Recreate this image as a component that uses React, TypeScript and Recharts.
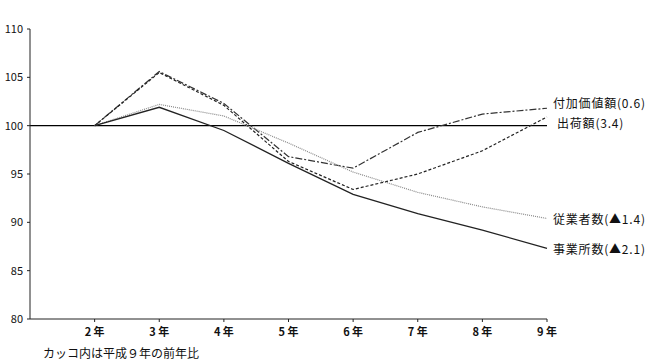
import React from 'react';
import { LineChart, Line, XAxis, YAxis, ReferenceLine } from 'recharts';

const years = [2, 3, 4, 5, 6, 7, 8, 9];
const yearLabels = ['2 年', '3 年', '4 年', '5 年', '6 年', '7 年', '8 年', '9 年'];
const valueAdded = [100, 105.6, 102.3, 96.8, 95.6, 99.3, 101.2, 101.8];
const shipments = [100, 105.5, 102.1, 96.3, 93.4, 95.0, 97.4, 100.9];
const employees = [100, 102.2, 101.0, 98.2, 95.2, 93.1, 91.6, 90.4];
const establishments = [100, 101.9, 99.5, 96.1, 92.9, 90.9, 89.2, 87.3];
const yTicks = [80, 85, 90, 95, 100, 105, 110];

const data = years.map((y, i) => ({
  year: y,
  valueAdded: valueAdded[i],
  shipments: shipments[i],
  employees: employees[i],
  establishments: establishments[i],
}));

const FONT = '"Noto Sans CJK JP", "Noto Sans", sans-serif';

const endLabel = (text: string, dx: number, dy: number) => (props: any) => {
  const { x, y, index } = props;
  if (index !== years.length - 1) return null;
  return (
    <text
      x={x + dx}
      y={y + dy}
      dominantBaseline="central"
      fontSize={12}
      letterSpacing={0.8}
      fontFamily={FONT}
      fill="#111"
    >
      {text}
    </text>
  );
};

export default function App() {
  return (
    <div style={{ position: 'absolute', left: 0, top: 0, width: 650, height: 361, background: '#fff' }}>
      <LineChart width={650} height={361} data={data} margin={{ top: 29, right: 103, bottom: 20, left: 0 }}>
        <XAxis
          dataKey="year"
          type="number"
          domain={[1, 9]}
          ticks={years}
          tickFormatter={(v: number) => yearLabels[years.indexOf(v)]}
          axisLine={{ stroke: '#222' }}
          tickLine={{ stroke: '#222' }}
          tickSize={3}
          tickMargin={6}
          tick={{ fontSize: 11, fontFamily: FONT, fill: '#111', fontWeight: 'bold' }}
          height={22}
        />
        <YAxis
          domain={[80, 110]}
          ticks={yTicks}
          width={30}
          axisLine={{ stroke: '#222' }}
          tickLine={{ stroke: '#222' }}
          tickSize={3}
          tickMargin={4}
          tick={{ fontSize: 11, fontFamily: FONT, fill: '#111' }}
        />
        <ReferenceLine y={100} stroke="#000" strokeWidth={1.2} />
        <Line
          dataKey="valueAdded"
          stroke="#333"
          strokeWidth={1.2}
          strokeDasharray="7 2 2 2"
          dot={false}
          isAnimationActive={false}
          label={endLabel('付加価値額(0.6)', 6, -6)}
        />
        <Line
          dataKey="shipments"
          stroke="#222"
          strokeWidth={1.2}
          strokeDasharray="3 2"
          dot={false}
          isAnimationActive={false}
          label={endLabel('出荷額(3.4)', 10, 6)}
        />
        <Line
          dataKey="employees"
          stroke="#888"
          strokeWidth={1.2}
          strokeDasharray="1 1"
          dot={false}
          isAnimationActive={false}
          label={endLabel('従業者数(▲1.4)', 6, 0)}
        />
        <Line
          dataKey="establishments"
          stroke="#222"
          strokeWidth={1.3}
          dot={false}
          isAnimationActive={false}
          label={endLabel('事業所数(▲2.1)', 6, 0)}
        />
      </LineChart>
      <div style={{ position: 'absolute', left: 43, top: 344, fontSize: 12, fontFamily: FONT, color: '#111', whiteSpace: 'nowrap' }}>
        カッコ内は平成９年の前年比
      </div>
    </div>
  );
}
